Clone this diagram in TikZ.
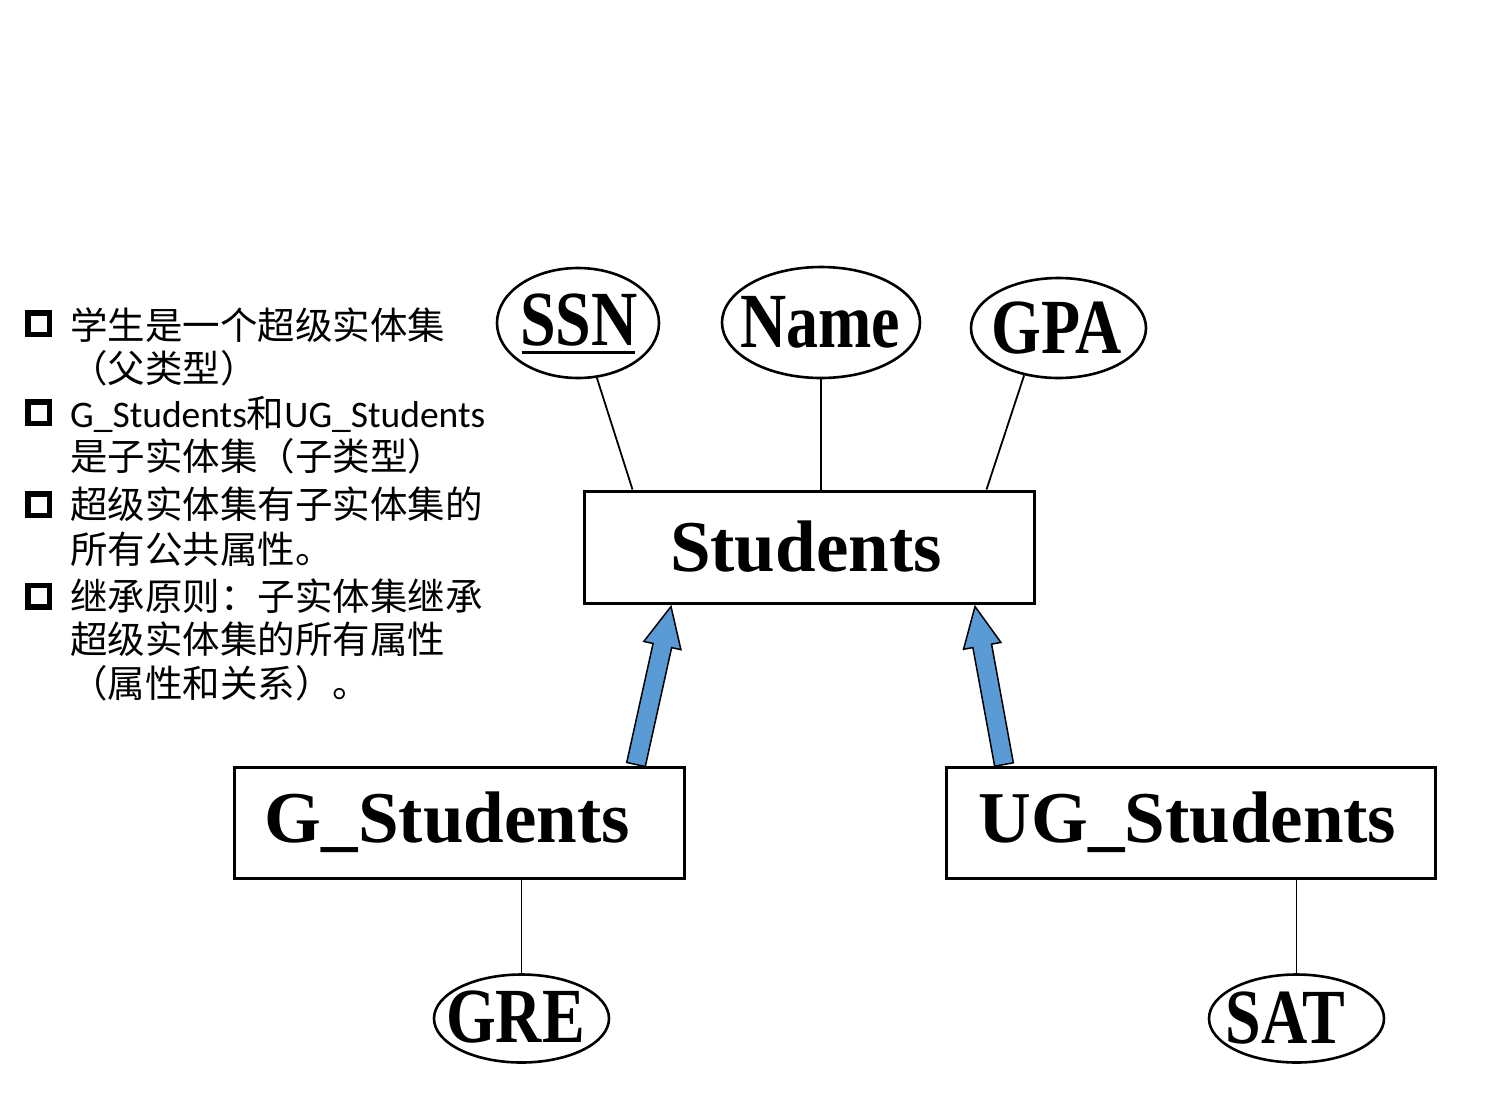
\documentclass[tikz,border=0pt]{standalone}
\usepackage{fontspec}
\setmainfont{Liberation Serif}
\newfontfamily\cjk{Noto Sans CJK SC}
\newfontfamily\lat{Carlito}
\usetikzlibrary{shapes.geometric,calc}
\definecolor{arrowblue}{HTML}{5B9BD5}
\tikzset{
  attr/.style={draw, ellipse, line width=2.6pt, inner sep=0pt,
    font=\bfseries\fontsize{64}{64}\selectfont},
  ent/.style={draw, rectangle, line width=3pt, inner sep=0pt,
    font=\bfseries\fontsize{73}{73}\selectfont},
  conn/.style={line width=1.8pt},
  bul/.style={draw, rectangle, line width=5.5pt, minimum size=21.5pt, inner sep=0pt},
  txt/.style={anchor=base west, inner sep=0pt, font=\cjk\fontsize{37.5}{44}\selectfont},
  arrowfill/.style={fill=arrowblue, draw=black, line width=1.5pt, line join=miter}
}
\newcommand\tall[2][0pt]{\makebox[0pt][c]{\hspace*{#1}\scalebox{1}[1.22]{#2}}}
\newcommand\fatarrow[2]{%
  \path (#1) coordinate (fa1) (#2) coordinate (fa2);
  \coordinate (faH) at ($(fa2)!40pt!(fa1)$);
  \filldraw[arrowfill]
    ($(fa1)!9.5pt!90:(fa2)$) -- ($(faH)!9.5pt!90:(fa2)$) --
    ($(faH)!19pt!90:(fa2)$) -- (fa2) --
    ($(faH)!19pt!-90:(fa2)$) -- ($(faH)!9.5pt!-90:(fa2)$) --
    ($(fa1)!9.5pt!-90:(fa2)$) -- cycle;
}
\begin{document}
\begin{tikzpicture}[x=1pt,y=-1pt]
\useasboundingbox[fill=white] (0,0) rectangle (1500,1093);

% left text
\node[bul] (b1) at (38.5,323.5) {};
\node[bul] (b2) at (38.5,412.5) {};
\node[bul] (b3) at (38.5,504.5) {};
\node[bul] (b4) at (38.5,596) {};
\node[txt] (t1) at (70,339) {学生是一个超级实体集};
\node[txt] (t2) at (70,382) {（父类型）};
\node[txt] (t3) at (70,427) {{\lat G\_Students}和{\lat UG\_Students}};
\node[txt] (t4) at (70,470) {是子实体集（子类型）};
\node[txt] (t5) at (70,518) {超级实体集有子实体集的};
\node[txt] (t6) at (70,563) {所有公共属性。};
\node[txt] (t7) at (70,610) {继承原则：子实体集继承};
\node[txt] (t8) at (70,653) {超级实体集的所有属性};
\node[txt] (t9) at (70,697) {（属性和关系）。};

% entity boxes
\node[ent, minimum width=450pt, minimum height=112pt] (St) at (809,547) {\hspace*{-6pt}Students};
\node[ent, minimum width=450pt, minimum height=111pt] (G) at (459,822.5) {\hspace*{-23pt}G\_Students};
\node[ent, minimum width=489pt, minimum height=111pt] (UG) at (1190.5,822.5) {\hspace*{-6pt}UG\_Students};

% attributes
\node[attr, minimum width=162pt, minimum height=110pt] (SSN) at (578,323) {\raisebox{6pt}{\tall[2pt]{SSN}}};
\draw[line width=3pt] ($(SSN.center)+(-56,29)$) -- ($(SSN.center)+(57,29)$);
\node[attr, minimum width=198pt, minimum height=111pt] (Nm) at (821,322.5) {\raisebox{-7pt}{\tall[-2pt]{Name}}};
\node[attr, minimum width=175pt, minimum height=100pt] (GPA) at (1058.5,328) {\tall[-4pt]{GPA}};
\node[attr, minimum width=175pt, minimum height=88pt] (GRE) at (521.5,1018.5) {\raisebox{3pt}{\tall[-12pt]{GRE}}};
\node[attr, minimum width=175pt, minimum height=88pt] (SAT) at (1296.5,1018.5) {\raisebox{2pt}{\tall[-22pt]{SAT}}};

% connectors
\draw[conn] (SSN.-71) -- ($(St.north west)+(50,0)$);
\draw[conn] (Nm.south) -- (Nm.south |- St.north);
\draw[conn] (GPA.-126) -- ($(St.north east)+(-49,0)$);
\draw[conn] (GRE.north) -- (GRE.north |- G.south);
\draw[conn] (SAT.north) -- (SAT.north |- UG.south);

% ISA arrows
\coordinate (gaS) at ($(G.north)+(177,-1)$);
\coordinate (gaT) at ($(St.south)+(-138,2)$);
\coordinate (uaS) at ($(UG.north)+(-186.5,-1)$);
\coordinate (uaT) at ($(St.south)+(166,2)$);
\fatarrow{gaS}{gaT}
\fatarrow{uaS}{uaT}
\end{tikzpicture}
\end{document}
